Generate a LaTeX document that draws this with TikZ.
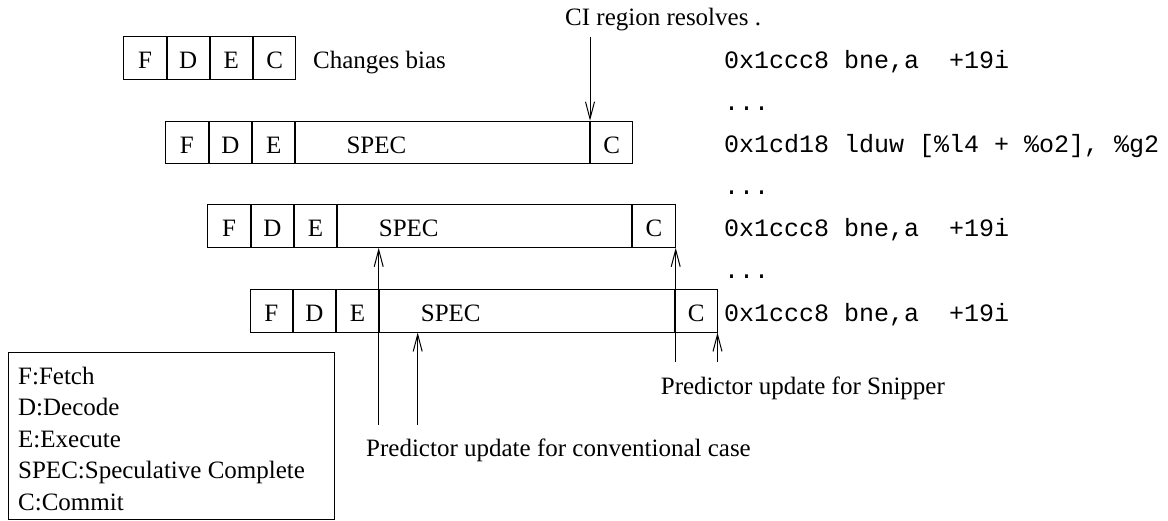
\documentclass[tikz,border=0pt]{standalone}
\usepackage{fontspec}
\setmainfont{Liberation Serif}
\setmonofont{Liberation Mono}
\usetikzlibrary{arrows.meta}
\begin{document}
\begin{tikzpicture}[x=1pt,y=-1pt,
  every node/.style={font=\fontsize{25pt}{30pt}\selectfont},
  cell/.style={draw, line width=1pt, inner sep=0pt, anchor=north west,
    minimum height=42.5pt, text height=21.5pt, text depth=0pt},
  lbl/.style={anchor=base west, inner sep=0pt},
  code/.style={anchor=base west, inner sep=0pt, font=\fontsize{25pt}{30pt}\ttfamily},
  arr/.style={line width=1pt, -{Straight Barb[length=17pt,width=9pt,line width=1pt]}}
]
\useasboundingbox (0,0) rectangle (1168,520);

% Row 1
\node[cell, minimum width=42.4pt] (r1f) at (123.3,36) {F};
\node[cell, minimum width=42.0pt] (r1d) at (r1f.north east) {D};
\node[cell, minimum width=42.3pt] (r1e) at (r1d.north east) {E};
\node[cell, minimum width=42.3pt] (r1c) at (r1e.north east) {C};
\node[lbl] (bias) at (313, 68) {Changes bias};

% Row 2
\node[cell, minimum width=42.7pt] (r2f) at (165,120.7) {F};
\node[cell, minimum width=42.3pt] (r2d) at (r2f.north east) {D};
\node[cell, minimum width=42.3pt] (r2e) at (r2d.north east) {E};
\node[cell, minimum width=293.7pt] (r2s) at (r2e.north east) {};
\node[cell, minimum width=42.2pt] (r2c) at (r2s.north east) {C};
\node[lbl] (r2t) at ([xshift=51pt]r2s.west |- r2f.base) {SPEC};

% Row 3
\node[cell, minimum width=42.7pt] (r3f) at (207.3,204.3) {F};
\node[cell, minimum width=41.7pt] (r3d) at (r3f.north east) {D};
\node[cell, minimum width=42.6pt] (r3e) at (r3d.north east) {E};
\node[cell, minimum width=294pt] (r3s) at (r3e.north east) {};
\node[cell, minimum width=42.4pt] (r3c) at (r3s.north east) {C};
\node[lbl] (r3t) at ([xshift=41.4pt]r3s.west |- r3f.base) {SPEC};

% Row 4
\node[cell, minimum width=41.7pt] (r4f) at (250,289) {F};
\node[cell, minimum width=42.6pt] (r4d) at (r4f.north east) {D};
\node[cell, minimum width=41.4pt] (r4e) at (r4d.north east) {E};
\node[cell, minimum width=295pt] (r4s) at (r4e.north east) {};
\node[cell, minimum width=41.8pt] (r4c) at (r4s.north east) {C};
\node[lbl] (r4t) at ([xshift=42pt]r4s.west |- r4f.base) {SPEC};

% Code column
\node[code] (k1) at (724, 68) {0x1ccc8 bne,a\ \ +19i};
\node[code] (k2) at (724, 110) {...};
\node[code] (k3) at (724, 152.7) {0x1cd18 lduw [\%l4 + \%o2], \%g2};
\node[code] (k4) at (724, 194.5) {...};
\node[code] (k5) at (724, 236.3) {0x1ccc8 bne,a\ \ +19i};
\node[code] (k6) at (724, 278) {...};
\node[code] (k7) at (724, 321) {0x1ccc8 bne,a\ \ +19i};

% CI region arrow
\node[lbl] (ci) at (565, 25) {CI region resolves .};
\coordinate (ciTop) at (r2c.north west |- 0,37);
\draw[arr] (ciTop) -- (r2c.north west);

% Predictor update for conventional case
\coordinate (cv1) at (r4s.south west |- 0,425);
\coordinate (cv2) at (417.7,425);
\draw[arr] (cv1) -- (cv1 |- r3s.south);
\draw[arr] (cv2) -- (cv2 |- r4s.south);
\node[lbl] (conv) at (366, 456.7) {Predictor update for conventional case};

% Predictor update for Snipper
\coordinate (sn1) at (r3c.south east |- 0,361.7);
\coordinate (sn2) at (r4c.south east |- 0,361.7);
\draw[arr] (sn1) -- (r3c.south east);
\draw[arr] (sn2) -- (r4c.south east);
\node[lbl] (snip) at (660.7, 394) {Predictor update for Snipper};

% Legend
\node[draw, line width=1pt, anchor=north west, inner sep=0pt,
  minimum width=326pt, minimum height=167pt] (legend) at (8,352) {};
\node[lbl] (lg1) at (18, 384) {F:Fetch};
\node[lbl] (lg2) at (18, 415.5) {D:Decode};
\node[lbl] (lg3) at (18, 447) {E:Execute};
\node[lbl] (lg4) at (18, 478.5) {SPEC:Speculative Complete};
\node[lbl] (lg5) at (18, 510) {C:Commit};
\end{tikzpicture}
\end{document}
